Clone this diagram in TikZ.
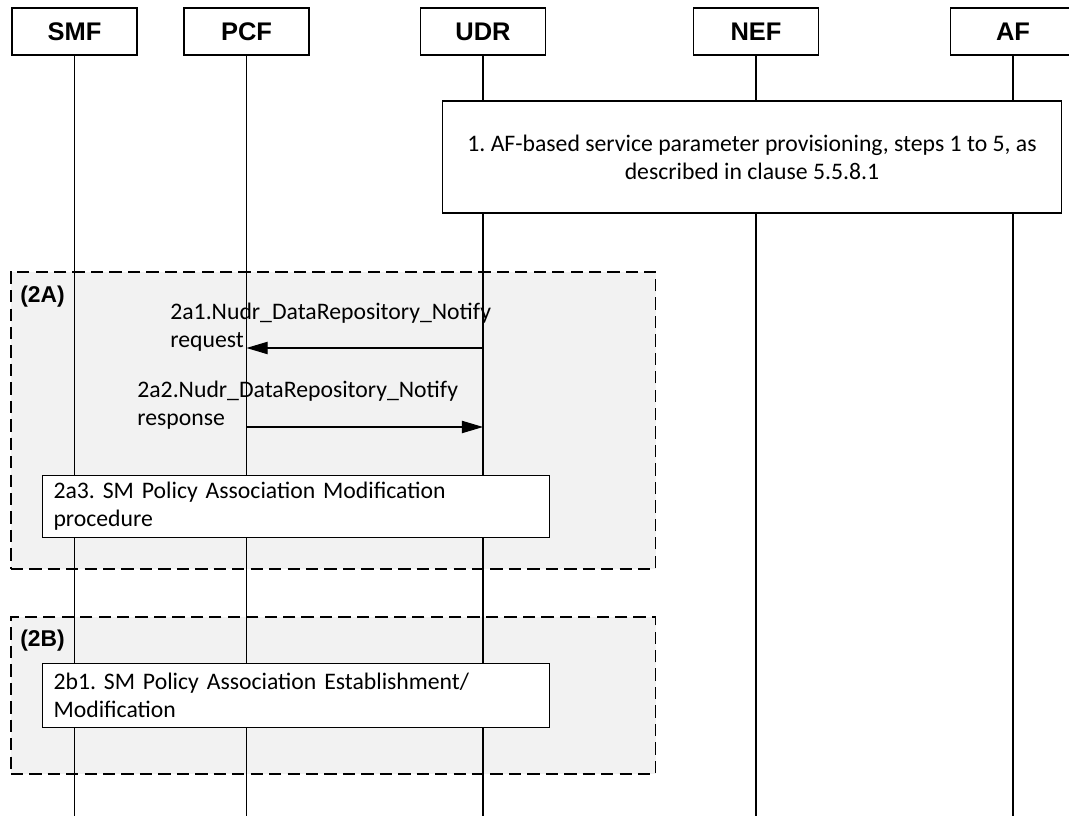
\documentclass[tikz,border=0pt]{standalone}
\usepackage{fontspec}
\setmainfont{Carlito}
\newfontfamily\hdrfont{Liberation Sans}
\usetikzlibrary{arrows.meta,positioning}
\definecolor{grpfill}{HTML}{F2F2F2}
\frenchspacing

\begin{document}
\begin{tikzpicture}[
  x=0.02cm, y=-0.02cm,
  >={Triangle[length=12pt,width=7pt]},
  entity/.style={draw, line width=0.6pt, minimum width=2.5cm, minimum height=0.94cm,
     inner sep=0pt, font=\hdrfont\bfseries\fontsize{14.5}{16}\selectfont},
  life/.style={line width=0.6pt},
  grp/.style={draw, dash pattern=on 7pt off 3.5pt, fill=grpfill, line width=0.9pt,
     anchor=north west, inner sep=0pt},
  grplbl/.style={anchor=north west, inner sep=0pt,
     font=\hdrfont\bfseries\fontsize{13}{15}\selectfont},
  stepbox/.style={draw, fill=white, line width=0.6pt, inner sep=0pt,
     font=\fontsize{13.5}{16}\selectfont},
  msg/.style={->, line width=0.6pt},
  lbl/.style={anchor=north west, inner sep=0pt, align=left,
     font=\fontsize{13.5}{16}\selectfont},
]
\useasboundingbox (0,0) rectangle (1069,820);
% --- rows (top -> bottom) ---
\def\yhead{31.5}
\def\yend{816}
% --- entities ---
\node[entity] (smf) at (74.5,\yhead) {SMF};
\node[entity] (pcf) at (246.5,\yhead) {PCF};
\node[entity] (udr) at (483,\yhead) {UDR};
\node[entity] (nef) at (756,\yhead) {NEF};
\node[entity] (af)  at (1013,\yhead) {AF};
% --- option groups ---
\node[grp, minimum width=12.9cm, minimum height=5.94cm] (grpA) at (10,271) {};
\node[grplbl] (grpAl) at (20,286) {(2A)};
\node[grp, minimum width=12.9cm, minimum height=3.14cm] (grpB) at (10,616) {};
\node[grplbl] (grpBl) at (20,630) {(2B)};
% --- lifelines ---
\coordinate (bottom) at (0,\yend);
\foreach \e in {smf,pcf,udr,nef,af}
  \draw[life] (\e.south) -- (\e |- bottom);
% --- steps ---
\node[stepbox, minimum width=12.4cm, minimum height=2.24cm, align=center] (prov) at (752,157)
  {1. AF-based service parameter provisioning, steps 1 to 5, as\\described in clause 5.5.8.1};
\node[stepbox, minimum width=10.14cm, minimum height=1.24cm, align=left,
  text width=9.7cm, anchor=north west] (smmod) at (42,475)
  {2a3. SM Policy Association Modification\\procedure};
\node[stepbox, minimum width=10.14cm, minimum height=1.28cm, align=left,
  text width=9.7cm, anchor=north west] (smest) at (42,663)
  {2b1. SM Policy Association Establishment/\\Modification};
% --- messages ---
\coordinate (m1) at (0,348);
\coordinate (m2) at (0,427);
\draw[msg] (m1 -| udr) -- (m1 -| pcf);
\node[lbl] (m1lbl) at (170,303) {2a1.Nudr\_DataRepository\_Notify\\request};
\draw[msg] (m2 -| pcf) -- (m2 -| udr);
\node[lbl] (m2lbl) at (137,381) {2a2.Nudr\_DataRepository\_Notify\\response};
\end{tikzpicture}
\end{document}
